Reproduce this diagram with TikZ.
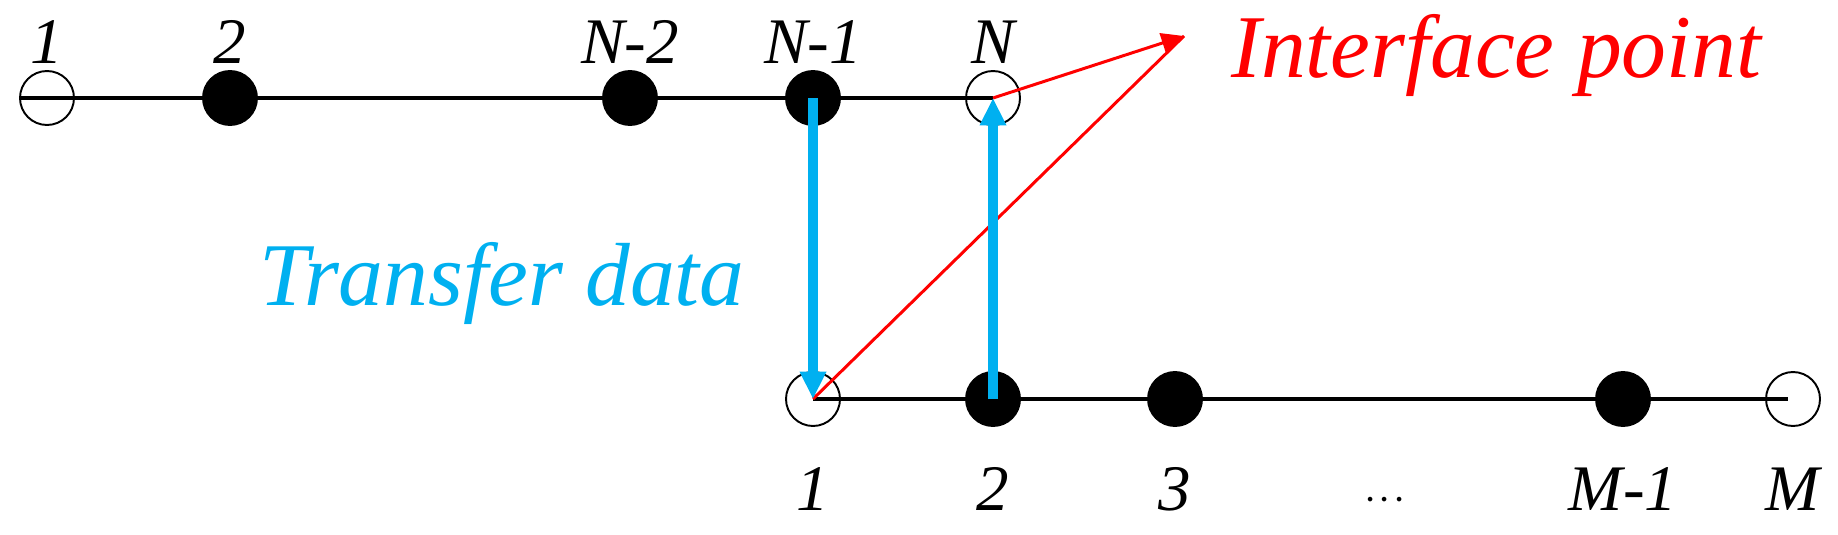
\documentclass[tikz,border=0pt]{standalone}
\usepackage{fontspec}
\setmainfont{Liberation Serif}
\usetikzlibrary{arrows.meta}
\definecolor{cyanb}{RGB}{0,176,240}
\begin{document}
\begin{tikzpicture}[x=0.02cm,y=-0.02cm,
  open/.style={circle,draw,line width=1.1pt,fill=white,minimum size=1.08cm,inner sep=0},
  full/.style={circle,draw,line width=1.1pt,fill=black,minimum size=1.08cm,inner sep=0},
  lbl/.style={anchor=base,font=\fontsize{37}{40}\selectfont\itshape},
  big/.style={anchor=base west,font=\fontsize{51}{55}\selectfont\itshape},
  link/.style={line width=2.8pt},
  blue/.style={cyanb,line width=5.5pt,-{Triangle[length=0.55cm,width=0.5cm]}},
  redl/.style={red,line width=1.7pt}]
\useasboundingbox (0,0) rectangle (1838,534);
\coordinate (t0) at (21,98);
\coordinate (b9) at (1788,399);
\draw[link] (t0) -- (993,98);
\draw[link] (813,399) -- (b9);
\node[open] (a1) at (47,98) {};
\node[full] (a2) at (230,98) {};
\node[full] (a3) at (630,98) {};
\node[full] (a4) at (813,98) {};
\node[open] (a5) at (993,98) {};
\node[open] (b1) at (813,399) {};
\node[full] (b2) at (993,399) {};
\node[full] (b3) at (1175,399) {};
\node[full] (b4) at (1623,399) {};
\node[open] (b5) at (1793,399) {};
\draw[link] (t0) -- (a5.center);
\draw[link] (b1.center) -- (b9);
\node[lbl] (la1) at (47,63) {1};
\node[lbl] (la2) at (230,63) {2};
\node[lbl] (la3) at (630,63) {N-2};
\node[lbl] (la4) at (813,63) {N-1};
\node[lbl] (la5) at (993,63) {N};
\node[lbl] (lb1) at (813,510) {1};
\node[lbl] (lb2) at (993,510) {2};
\node[lbl] (lb3) at (1175,510) {3};
\node[lbl,font=\fontsize{37}{40}\selectfont\bfseries] (ldots) at (1385,510) {$\cdot\!\cdot\!\cdot$};
\node[lbl] (lb4) at (1623,510) {M-1};
\node[lbl] (lb5) at (1793,510) {M};
\coordinate (tip) at (1184,36);
\draw[redl] (b1.center) -- (tip);
\draw[redl,-{Triangle[length=0.45cm,width=0.4cm]}] (a5.center) -- (tip);
\draw[blue] (a4.center) -- (b1.center);
\draw[blue] (b2.center) -- (a5.center);
\node[big,red] (ip) at (1225,77) {Interface point};
\node[big,cyanb] (td) at (253,305) {Transfer data};
\end{tikzpicture}
\end{document}
